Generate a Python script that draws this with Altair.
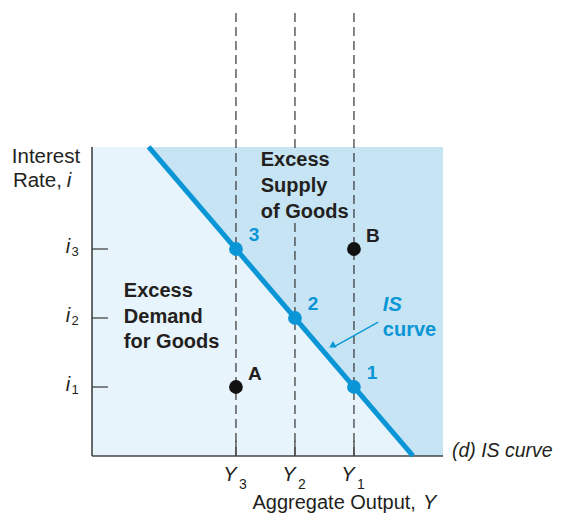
import altair as alt
import pandas as pd

# ---------------- data (conceptual units) ----------------
y_names = ["3", "2", "1"]            # output levels Y3, Y2, Y1
y_vals = [2.44, 3.44, 4.44]
i_names = ["1", "2", "3"]            # interest rates i1, i2, i3
i_vals = [1.0, 2.0, 3.0]
is_labels = ["3", "2", "1"]          # points on IS curve
is_Y = [2.44, 3.44, 4.44]
is_i = [3.0, 2.0, 1.0]
off_labels = ["A", "B"]              # points off the curve
off_Y = [2.44, 4.44]
off_i = [1.0, 3.0]
IS_INTERCEPT = 5.44                  # i = 5.44 - Y
Y_MAX = 5.95
I_MAX = 4.48
DASH_TOP = 6.42

FONT = "Liberation Sans"
BLUE = "#0a96d6"
DARK = "#c6e4f3"
LIGHT = "#e8f4fb"
AXIS = "#444444"
INK = "#231f20"

W, H = 550, 506
XS = alt.Scale(domain=[-1.4237, 7.8983], nice=False, zero=False)
YS = alt.Scale(domain=[-0.8406, 6.4928], nice=False, zero=False)


def X(f="x"):
    return alt.X(f"{f}:Q", scale=XS, axis=None)


def Y(f="y"):
    return alt.Y(f"{f}:Q", scale=YS, axis=None)


# background shading
dark = alt.Chart(pd.DataFrame({"x": [0], "x2": [Y_MAX], "y": [0], "y2": [I_MAX]})).mark_rect(
    color=DARK).encode(x=X(), x2="x2:Q", y=Y(), y2="y2:Q")

y_top = IS_INTERCEPT - I_MAX
light = alt.Chart(pd.DataFrame({"x": [0, y_top, IS_INTERCEPT], "y": [I_MAX, I_MAX, 0], "y2": [0, 0, 0]})).mark_area(
    color=LIGHT, opacity=1).encode(x=X(), y=Y(), y2="y2:Q")

# dashed guides
dashes = alt.Chart(pd.DataFrame({"x": y_vals, "y": [0] * 3, "y2": [DASH_TOP] * 3})).mark_rule(
    color="#333333", strokeWidth=1.2, strokeDash=[9, 5]).encode(x=X(), y=Y(), y2="y2:Q")

# background behind "Excess Supply of Goods"
txtbg = alt.Chart(pd.DataFrame({"x": [2.81], "x2": [4.37], "y": [3.39], "y2": [4.43]})).mark_rect(
    color=DARK).encode(x=X(), x2="x2:Q", y=Y(), y2="y2:Q")

# axes
axes = alt.Chart(pd.DataFrame({"x": [0, 0], "x2": [0, Y_MAX], "y": [0, 0], "y2": [I_MAX, 0]})).mark_rule(
    color=AXIS, strokeWidth=1.6).encode(x=X(), x2="x2:Q", y=Y(), y2="y2:Q")
yticks = alt.Chart(pd.DataFrame({"x": [0] * 3, "x2": [0.27] * 3, "y": i_vals})).mark_rule(
    color=AXIS, strokeWidth=1.3).encode(x=X(), x2="x2:Q", y=Y())
xticks = alt.Chart(pd.DataFrame({"x": y_vals, "y": [0] * 3, "y2": [0.22] * 3})).mark_rule(
    color=AXIS, strokeWidth=1.3).encode(x=X(), y=Y(), y2="y2:Q")

# IS curve
is_line = alt.Chart(pd.DataFrame({"x": [y_top, IS_INTERCEPT], "y": [I_MAX, 0]})).mark_line(
    color=BLUE, strokeWidth=5, strokeCap="butt").encode(x=X(), y=Y())

# arrow
arrow_line = alt.Chart(pd.DataFrame({"x": [4.85], "y": [1.94], "x2": [4.10], "y2": [1.58]})).mark_rule(
    color=BLUE, strokeWidth=1.4).encode(x=X(), y=Y(), x2="x2:Q", y2="y2:Q")
arrow_head = alt.Chart(pd.DataFrame({"x": [4.068], "y": [1.597]})).mark_point(
    shape="triangle-up", filled=True, color=BLUE, opacity=1, size=55, angle=240.6).encode(x=X(), y=Y())

# points
is_df = pd.DataFrame({"label": is_labels, "x": is_Y, "y": is_i})
off_df = pd.DataFrame({"label": off_labels, "x": off_Y, "y": off_i})
is_pts = alt.Chart(is_df).mark_circle(color=BLUE, size=190, opacity=1).encode(x=X(), y=Y())
off_pts = alt.Chart(off_df).mark_circle(color="#111111", size=190, opacity=1).encode(x=X(), y=Y())
is_txt = alt.Chart(is_df).mark_text(font=FONT, fontSize=19, fontWeight="bold", color=BLUE,
                                    dx=18, dy=-14, baseline="middle").encode(x=X(), y=Y(), text="label:N")
off_txt = alt.Chart(off_df).mark_text(font=FONT, fontSize=19, fontWeight="bold", color=INK,
                                      dx=19, dy=-13, baseline="middle").encode(x=X(), y=Y(), text="label:N")

# region texts
supply = alt.Chart(pd.DataFrame({"t": ["Excess", "Supply", "of Goods"], "x": [2.86] * 3,
                                 "y": [4.29, 3.913, 3.536]})).mark_text(
    font=FONT, fontSize=20, fontWeight="bold", color=INK, align="left", baseline="middle").encode(
    x=X(), y=Y(), text="t:N")
demand = alt.Chart(pd.DataFrame({"t": ["Excess", "Demand", "for Goods"], "x": [0.54] * 3,
                                 "y": [2.39, 2.01, 1.65]})).mark_text(
    font=FONT, fontSize=20, fontWeight="bold", color=INK, align="left", baseline="middle").encode(
    x=X(), y=Y(), text="t:N")
is_word = alt.Chart(pd.DataFrame({"t": ["IS"], "x": [4.93], "y": [2.19]})).mark_text(
    font=FONT, fontSize=20, fontWeight="bold", fontStyle="italic", color=BLUE, align="left",
    baseline="middle").encode(x=X(), y=Y(), text="t:N")
curve_word = alt.Chart(pd.DataFrame({"t": ["curve"], "x": [4.93], "y": [1.83]})).mark_text(
    font=FONT, fontSize=20, fontWeight="bold", color=BLUE, align="left",
    baseline="middle").encode(x=X(), y=Y(), text="t:N")

# tick labels
ylab_main = alt.Chart(pd.DataFrame({"t": ["Y"] * 3, "x": y_vals, "y": [0] * 3})).mark_text(
    font=FONT, fontSize=20, fontStyle="italic", color=INK, dx=-6, dy=19, baseline="middle").encode(
    x=X(), y=Y(), text="t:N")
ylab_sub = alt.Chart(pd.DataFrame({"t": y_names, "x": y_vals, "y": [0] * 3})).mark_text(
    font=FONT, fontSize=14, color=INK, dx=7, dy=29, baseline="middle").encode(
    x=X(), y=Y(), text="t:N")
ilab_main = alt.Chart(pd.DataFrame({"t": ["i"] * 3, "x": [0] * 3, "y": i_vals})).mark_text(
    font=FONT, fontSize=20, fontStyle="italic", color=INK, dx=-24, dy=-2, baseline="middle").encode(
    x=X(), y=Y(), text="t:N")
ilab_sub = alt.Chart(pd.DataFrame({"t": i_names, "x": [0] * 3, "y": i_vals})).mark_text(
    font=FONT, fontSize=13, color=INK, dx=-17, dy=3, baseline="middle").encode(
    x=X(), y=Y(), text="t:N")

# axis titles and caption
ytitle1 = alt.Chart(pd.DataFrame({"t": ["Interest"], "x": [-0.78], "y": [4.33]})).mark_text(
    font=FONT, fontSize=20.5, color=INK, baseline="middle").encode(x=X(), y=Y(), text="t:N")
ytitle2 = alt.Chart(pd.DataFrame({"t": ["Rate,"], "x": [-0.51], "y": [3.99]})).mark_text(
    font=FONT, fontSize=20.5, color=INK, align="right", baseline="middle").encode(x=X(), y=Y(), text="t:N")
ytitle3 = alt.Chart(pd.DataFrame({"t": ["i"], "x": [-0.43], "y": [3.99]})).mark_text(
    font=FONT, fontSize=20.5, fontStyle="italic", color=INK, align="left", baseline="middle").encode(
    x=X(), y=Y(), text="t:N")
xtitle1 = alt.Chart(pd.DataFrame({"t": ["Aggregate Output,"], "x": [5.49], "y": [-0.775]})).mark_text(
    font=FONT, fontSize=20, color=INK, align="right", baseline="alphabetic").encode(x=X(), y=Y(), text="t:N")
xtitle2 = alt.Chart(pd.DataFrame({"t": ["Y"], "x": [5.61], "y": [-0.775]})).mark_text(
    font=FONT, fontSize=20, fontStyle="italic", color=INK, align="left", baseline="alphabetic").encode(
    x=X(), y=Y(), text="t:N")
caption = alt.Chart(pd.DataFrame({"t": ["(d) IS curve"], "x": [6.1], "y": [0.07]})).mark_text(
    font=FONT, fontSize=19.5, fontStyle="italic", color=INK, align="left", baseline="middle").encode(
    x=X(), y=Y(), text="t:N")

chart = alt.layer(
    dark, light, dashes, txtbg, axes, yticks, xticks, is_line, arrow_line, arrow_head,
    is_pts, off_pts, is_txt, off_txt, supply, demand, is_word, curve_word,
    ylab_main, ylab_sub, ilab_main, ilab_sub, ytitle1, ytitle2, ytitle3, xtitle1, xtitle2, caption
).properties(
    width=W, height=H, padding=0, autosize=alt.AutoSizeParams(type="none")
).configure(background="white").configure_view(stroke=None)

chart.save("out.html", embed_options={"renderer": "svg", "actions": False})
